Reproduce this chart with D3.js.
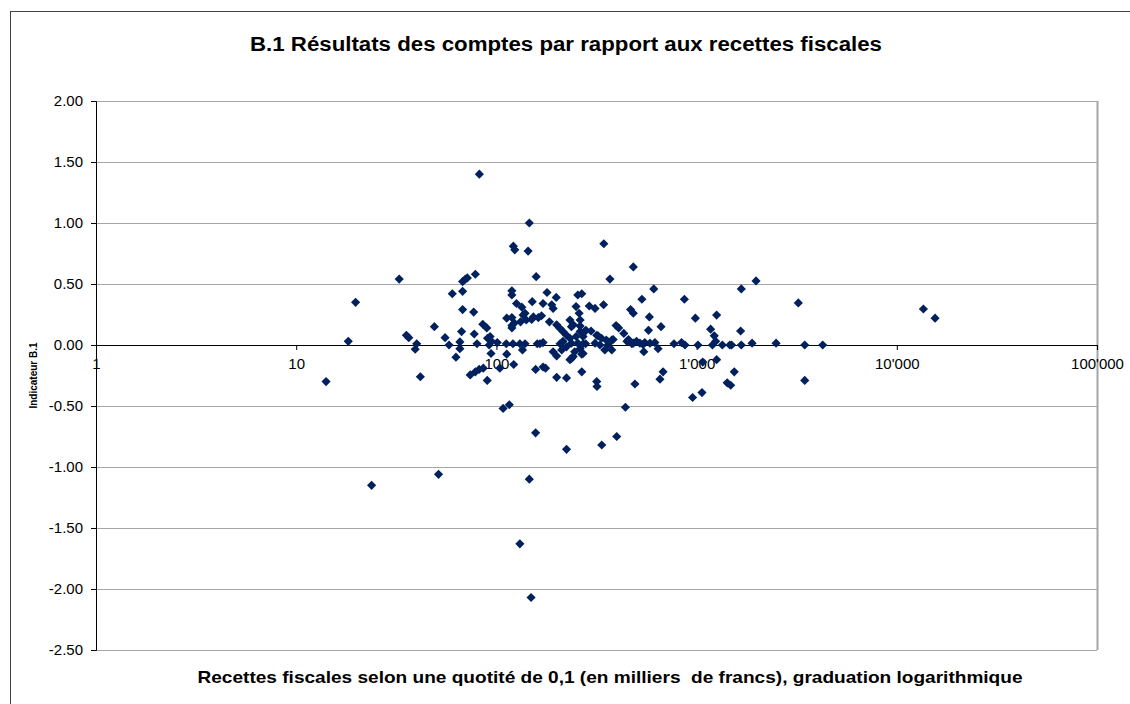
<!DOCTYPE html>
<html>
<head>
<meta charset="utf-8">
<script src="https://cdn.jsdelivr.net/npm/d3@7"></script>
<style>
  body { margin: 0; background: #fff; }
  text { font-family: Arial, "Liberation Sans", sans-serif; }
</style>
</head>
<body>
<svg id="chart" width="1130" height="704"></svg>
<script>
// recettes fiscales (milliers de francs)
var recettes = [
  14.1, 18.2, 19.8, 23.8, 32.7, 35.5, 36.5, 40, 39.3, 41.7,
  49, 51.4, 55.4, 58, 62.8, 65.7, 65.7, 67, 67.8, 67.8,
  67.8, 70, 71.6, 78.5, 60.2, 77, 77.5, 80, 74, 78.5,
  82, 86, 90, 82.2, 85.5, 89.5, 90.3, 93, 92, 94,
  101, 104, 108, 116, 112, 112.6, 112.6, 119.5, 119.5, 119.5,
  119.5, 119.5, 121.5, 123.5, 121, 122, 126, 134, 131, 135,
  139, 132, 136, 141, 139, 123, 146, 144, 146, 131,
  149, 150, 151, 153, 158, 157, 157, 160, 162, 165,
  171, 171, 171, 179, 184, 189, 192, 192, 199, 200,
  200, 200, 208, 208, 212, 215, 215, 224, 224, 224,
  224, 233, 233, 237, 237, 237, 233, 242, 242, 246,
  250, 250, 255, 255, 259, 262, 262, 262, 262, 267,
  267, 267, 271, 271, 276, 279, 280, 291, 297, 311,
  311, 317, 317, 318, 322, 329, 335, 336, 343, 344,
  348, 354, 361, 369, 377, 377, 383, 396, 408, 399,
  433, 449, 457, 441, 468, 483, 483, 483, 492, 501,
  521, 533, 545, 551, 575, 581, 585, 611, 619, 642,
  656, 664, 680, 771, 841, 869, 875, 955, 986, 1016,
  1064, 1073, 1175, 1200, 1225, 1245, 1259, 1259, 1345, 1422,
  1465, 1496, 1480, 1542, 1659, 1672, 1672, 1893, 1981, 2495,
  3221, 3468, 3468, 4266, 13580, 15530, 94.5, 168, 271, 475,
  540, 176
];

// indicateur B.1, same order
var indicateur = [
  -0.30, 0.03, 0.35, -1.15, 0.54, 0.08, 0.06, 0.01, -0.035, -0.26,
  0.15, -1.06, 0.06, 0.00, -0.10, 0.025, -0.03, 0.11, 0.29, 0.44,
  0.52, 0.54, 0.55, 0.58, 0.42, 0.27, 0.09, 0.01, -0.245, -0.22,
  -0.20, -0.19, -0.29, 1.40, 0.17, 0.14, 0.055, 0.07, 0.00, -0.07,
  0.02, -0.19, -0.52, -0.49, 0.01, -0.075, 0.22, 0.225, 0.16, 0.14,
  0.445, 0.41, 0.81, 0.78, 0.01, -0.16, 0.34, 0.31, 0.01, -0.04,
  0.01, 0.19, 0.245, 0.205, 0.26, 0.18, 1.00, 0.77, -1.10, -1.63,
  -2.07, 0.21, 0.355, 0.23, 0.56, -0.20, -0.72, 0.01, 0.225, 0.01,
  0.02, 0.34, -0.18, 0.43, 0.19, 0.33, 0.30, -0.055, 0.39, 0.165,
  -0.09, -0.265, 0.135, 0.01, -0.04, 0.11, 0.03, 0.08, -0.015, -0.27,
  -0.855, 0.055, 0.205, 0.15, 0.015, -0.11, -0.12, 0.165, -0.095, -0.055,
  0.315, 0.07, 0.015, 0.41, 0.26, 0.205, 0.155, 0.11, -0.03, 0.42,
  -0.075, -0.22, 0.07, -0.07, 0.11, 0.01, 0.12, 0.32, 0.115, 0.30,
  0.015, 0.08, -0.30, -0.34, 0.075, 0.00, 0.055, -0.82, 0.33, 0.83,
  -0.04, 0.04, 0.00, 0.54, 0.04, -0.04, 0.045, 0.16, 0.14, -0.75,
  0.095, 0.03, 0.045, -0.51, 0.29, 0.64, 0.26, 0.015, -0.32, 0.03,
  0.015, 0.375, -0.055, 0.02, 0.12, 0.23, 0.015, 0.46, 0.02, -0.03,
  -0.28, 0.15, -0.22, 0.01, 0.02, 0.375, 0.00, -0.43, 0.22, 0.00,
  -0.39, -0.14, 0.13, 0.00, 0.075, 0.03, 0.245, -0.12, 0.00, -0.31,
  0.00, 0.00, -0.33, -0.22, 0.115, 0.00, 0.46, 0.015, 0.525, 0.015,
  0.345, 0.00, -0.29, 0.00, 0.295, 0.22, 0.03, 0.24, 0.01, 0.01,
  0.005, -0.19
];

var xTicks = [1, 10, 100, 1000, 10000, 100000];
var yTicks = [2, 1.5, 1, 0.5, 0, -0.5, -1, -1.5, -2, -2.5];

var titre = "B.1 Résultats des comptes par rapport aux recettes fiscales";
var titreX = "Recettes fiscales selon une quotité de 0,1 (en milliers  de francs), graduation logarithmique";
var titreY = "Indicateur B.1";

var margin = { top: 101, right: 33, bottom: 54, left: 96 },
    width = 1130 - margin.left - margin.right,
    height = 704 - margin.top - margin.bottom;

var svg = d3.select("#chart");

// chart frame
svg.append("rect")
  .attr("x", 10.5).attr("y", 11.5)
  .attr("width", 1130).attr("height", 720)
  .attr("fill", "#fff").attr("stroke", "#444").attr("stroke-width", 1);

var g = svg.append("g").attr("transform", "translate(" + margin.left + "," + margin.top + ")");

var x = d3.scaleLog().domain([1, 100000]).range([0, width]);
var y = d3.scaleLinear().domain([-2.5, 2]).range([height, 0]);

// Excel style: apostrophe thousands, plain hyphen minus
var locale = d3.formatLocale({ decimal: ".", thousands: "'", grouping: [3], currency: ["", ""], minus: "-" });
var fmtX = locale.format(",");
var fmtY = locale.format(".2f");

// horizontal grid
g.append("g").selectAll("line").data(yTicks).enter().append("line")
  .attr("x1", 0).attr("x2", width)
  .attr("y1", function (d) { return Math.round(y(d)) + 0.5; })
  .attr("y2", function (d) { return Math.round(y(d)) + 0.5; })
  .attr("stroke", "#a6a6a6").attr("stroke-width", 1.2);

// right border of plot area
g.append("line")
  .attr("x1", width + 0.5).attr("x2", width + 0.5)
  .attr("y1", 0).attr("y2", height)
  .attr("stroke", "#a6a6a6").attr("stroke-width", 2);

// y axis
var yAxis = g.append("g")
  .call(d3.axisLeft(y).tickValues(yTicks).tickSize(5).tickPadding(8).tickFormat(fmtY));
yAxis.select(".domain").attr("stroke", "#000");
yAxis.selectAll("text").attr("font-size", 15).attr("fill", "#000");

// x axis at y = 0
var xAxis = g.append("g").attr("transform", "translate(0," + y(0) + ")")
  .call(d3.axisBottom(x).tickValues(xTicks).tickSize(5).tickPadding(8).tickFormat(fmtX));
xAxis.select(".domain").attr("stroke", "#000");
xAxis.selectAll("text").attr("font-size", 15).attr("fill", "#000");

// points
var data = recettes.map(function (v, i) { return { x: v, y: indicateur[i] }; });
g.append("g").selectAll("path").data(data).enter().append("path")
  .attr("d", d3.symbol(d3.symbolSquare, 42))
  .attr("transform", function (d) {
    return "translate(" + x(d.x) + "," + y(d.y) + ") rotate(45)";
  })
  .attr("fill", "#00215e");

// titles
svg.append("text")
  .attr("x", 566).attr("y", 51)
  .attr("text-anchor", "middle")
  .attr("font-size", 20).attr("font-weight", "bold")
  .attr("textLength", 632).attr("lengthAdjust", "spacingAndGlyphs")
  .text(titre);

svg.append("text")
  .attr("x", 610).attr("y", 683)
  .attr("text-anchor", "middle")
  .attr("font-size", 17).attr("font-weight", "bold")
  .attr("textLength", 825).attr("lengthAdjust", "spacingAndGlyphs")
  .style("white-space", "pre")
  .text(titreX);

svg.append("text")
  .attr("transform", "translate(37," + (margin.top + height / 2) + ") rotate(-90)")
  .attr("text-anchor", "middle")
  .attr("font-size", 10).attr("font-weight", "bold")
  .text(titreY);
</script>
</body>
</html>
